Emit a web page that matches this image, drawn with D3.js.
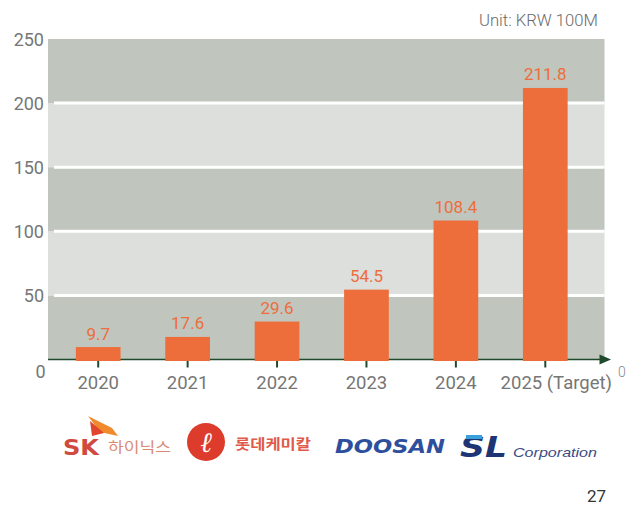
<!DOCTYPE html>
<html>
<head>
<meta charset="utf-8">
<script src="https://cdn.jsdelivr.net/npm/d3@7"></script>
<style>
  html, body { margin: 0; padding: 0; background: #fff; }
  svg { display: block; font-family: Roboto, "Noto Sans", sans-serif; }
</style>
</head>
<body>
<svg id="chart" width="637" height="509"></svg>
<script>
// Revenue by year (unit: KRW 100M)
const years = ["2020", "2021", "2022", "2023", "2024", "2025 (Target)"];
const revenue = [9.7, 17.6, 29.6, 54.5, 108.4, 211.8];
const yTicks = [0, 50, 100, 150, 200, 250];
const unitLabel = "Unit: KRW 100M";
const partnerNames = ["SK", "하이닉스", "롯데케미칼", "DOOSAN", "SL", "Corporation"];
const pageNumber = "27";

const svg = d3.select("#chart");

const plot = { left: 48, right: 604.5, top: 39, bottom: 359.5 };
const colors = {
  bar: "#ed6e3b",
  bandDark: "#c0c5bd",
  bandLight: "#dcdfdb",
  axis: "#1f4a2c",
  tickText: "#767676"
};

const x = d3.scaleBand()
  .domain(years)
  .range([53.5, 590])
  .paddingInner(0.5)
  .paddingOuter(0.25);

const y = d3.scaleLinear()
  .domain([0, 250])
  .range([plot.bottom, plot.top]);

// Alternating background bands between the gridlines
const bands = d3.pairs(yTicks);
svg.append("g").selectAll("rect")
  .data(bands)
  .join("rect")
  .attr("x", plot.left)
  .attr("width", plot.right - plot.left)
  .attr("y", d => y(d[1]))
  .attr("height", d => y(d[0]) - y(d[1]))
  .attr("fill", (d, i) => i % 2 === 0 ? colors.bandDark : colors.bandLight);

// White separators between bands
svg.append("g").selectAll("line")
  .data(yTicks.slice(1, -1))
  .join("line")
  .attr("x1", plot.left + 6)
  .attr("x2", plot.right)
  .attr("y1", d => y(d))
  .attr("y2", d => y(d))
  .attr("stroke", "#fff")
  .attr("stroke-width", 3);

// Y axis labels
const yAxis = svg.append("g")
  .attr("transform", `translate(${plot.left},0)`)
  .call(d3.axisLeft(y).tickValues(yTicks).tickSize(0).tickPadding(4));
yAxis.select(".domain").remove();
yAxis.selectAll("text")
  .attr("font-family", "Roboto, 'Noto Sans', sans-serif")
  .attr("font-size", 18)
  .attr("fill", colors.tickText)
  .attr("dy", d => d === 0 ? "1.0em" : "0.35em")
  .attr("dx", d => d === 0 ? 1.5 : 0);

// X axis line with arrow head
svg.append("line")
  .attr("x1", plot.left)
  .attr("x2", 601)
  .attr("y1", plot.bottom)
  .attr("y2", plot.bottom)
  .attr("stroke", colors.axis)
  .attr("stroke-width", 1.6);
svg.append("path")
  .attr("d", d3.line()([[599.5, plot.bottom - 5], [611, plot.bottom], [599.5, plot.bottom + 5]]) + "Z")
  .attr("fill", colors.axis);

// X axis ticks and labels
const xAxis = svg.append("g")
  .attr("transform", `translate(0,${plot.bottom})`)
  .call(d3.axisBottom(x).tickSize(8).tickPadding(0));
xAxis.select(".domain").remove();
xAxis.selectAll(".tick line")
  .attr("stroke", colors.axis)
  .attr("stroke-width", 2);
xAxis.selectAll(".tick text")
  .attr("font-family", "Roboto, 'Noto Sans', sans-serif")
  .attr("font-size", 18.5)
  .attr("fill", colors.tickText)
  .attr("y", 29.5)
  .attr("dy", null)
  .attr("dx", (d, i) => i === years.length - 1 ? 11 : 0);

// Bars
svg.append("g").selectAll("rect")
  .data(revenue)
  .join("rect")
  .attr("x", (d, i) => x(years[i]))
  .attr("width", x.bandwidth())
  .attr("y", d => y(d))
  .attr("height", d => y(0) - y(d) + 1.5)
  .attr("fill", colors.bar);

// Value labels
svg.append("g").selectAll("text")
  .data(revenue)
  .join("text")
  .attr("x", (d, i) => x(years[i]) + x.bandwidth() / 2)
  .attr("y", d => y(d) - 7.5)
  .attr("text-anchor", "middle")
  .attr("font-size", 17)
  .attr("fill", colors.bar)
  .text(d => d.toFixed(1));

// Unit note and secondary zero at the axis end
svg.append("text")
  .attr("x", 598).attr("y", 26)
  .attr("text-anchor", "end")
  .attr("font-size", 16)
  .attr("font-weight", 300)
  .attr("fill", "#6a6a6a")
  .attr("textLength", 119)
  .attr("lengthAdjust", "spacingAndGlyphs")
  .text(unitLabel);
svg.append("text")
  .attr("x", 622).attr("y", 377)
  .attr("text-anchor", "middle")
  .attr("font-size", 14)
  .attr("font-weight", 300)
  .attr("fill", "#888")
  .text(yTicks[0]);

// Partner logos
const logos = svg.append("g");

// SK hynix
logos.append("path")
  .attr("d", "M88,416 L112,428 L118,436 L100,432 Z")
  .attr("fill", "#f08a2c");
logos.append("path")
  .attr("d", "M90,421 L104,433 L92,436 Z")
  .attr("fill", "#e0452e");
logos.append("text")
  .attr("x", 63).attr("y", 455)
  .attr("font-family", "'DejaVu Sans', sans-serif")
  .attr("font-weight", "bold")
  .attr("font-size", 21)
  .attr("fill", "#d04a40")
  .attr("textLength", 36)
  .attr("lengthAdjust", "spacingAndGlyphs")
  .text(partnerNames[0]);
logos.append("text")
  .attr("x", 108).attr("y", 452)
  .attr("font-family", "'Noto Sans CJK KR', sans-serif")
  .attr("font-size", 14)
  .attr("fill", "#d98a72")
  .attr("textLength", 63)
  .attr("lengthAdjust", "spacingAndGlyphs")
  .text(partnerNames[1]);

// Lotte Chemical
logos.append("circle")
  .attr("cx", 206).attr("cy", 442).attr("r", 19)
  .attr("fill", "#dd3b2b");
logos.append("text")
  .attr("x", 206).attr("y", 452)
  .attr("text-anchor", "middle")
  .attr("font-family", "'DejaVu Serif', serif")
  .attr("font-style", "italic")
  .attr("font-size", 28)
  .attr("fill", "#fff")
  .text("ℓ");
logos.append("text")
  .attr("x", 235).attr("y", 449)
  .attr("font-family", "'Noto Sans CJK KR', sans-serif")
  .attr("font-weight", "bold")
  .attr("font-size", 14)
  .attr("fill", "#e05a4a")
  .attr("textLength", 76)
  .attr("lengthAdjust", "spacingAndGlyphs")
  .text(partnerNames[2]);

// DOOSAN
logos.append("text")
  .attr("x", 335).attr("y", 453)
  .attr("font-family", "'DejaVu Sans', sans-serif")
  .attr("font-weight", "bold")
  .attr("font-style", "italic")
  .attr("font-size", 19)
  .attr("fill", "#2d4f9e")
  .attr("textLength", 110)
  .attr("lengthAdjust", "spacingAndGlyphs")
  .text(partnerNames[3]);

// SL Corporation
logos.append("text")
  .attr("x", 460).attr("y", 457)
  .attr("font-family", "'DejaVu Sans', sans-serif")
  .attr("font-weight", "bold")
  .attr("font-style", "italic")
  .attr("font-size", 28)
  .attr("fill", "#1d3575")
  .attr("textLength", 47)
  .attr("lengthAdjust", "spacingAndGlyphs")
  .text(partnerNames[4]);
logos.append("rect")
  .attr("x", 466).attr("y", 435).attr("width", 16).attr("height", 4)
  .attr("fill", "#3aa0dc");
logos.append("text")
  .attr("x", 513).attr("y", 457)
  .attr("font-family", "'Liberation Sans', sans-serif")
  .attr("font-style", "italic")
  .attr("font-size", 13)
  .attr("fill", "#3b4b82")
  .attr("textLength", 84)
  .attr("lengthAdjust", "spacingAndGlyphs")
  .text(partnerNames[5]);

// Page number
svg.append("text")
  .attr("x", 606).attr("y", 502)
  .attr("text-anchor", "end")
  .attr("font-size", 17)
  .attr("fill", "#333")
  .text(pageNumber);
</script>
</body>
</html>
